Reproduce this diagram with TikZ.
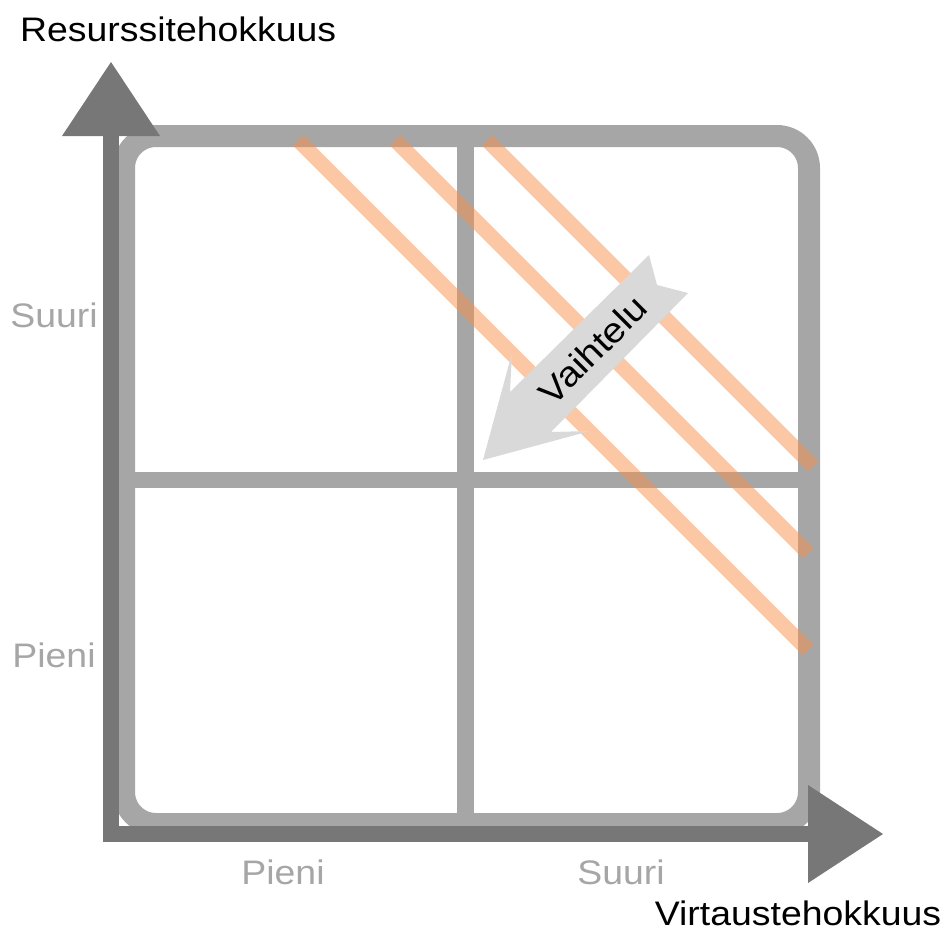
\documentclass[tikz,border=0pt]{standalone}
\usepackage{fontspec}
\setmainfont[FakeStretch=1.1]{Liberation Sans}
\definecolor{axisgray}{HTML}{777777}
\definecolor{framegray}{HTML}{A6A6A6}
\definecolor{labelgray}{HTML}{A6A6A6}
\definecolor{arrowfill}{HTML}{D9D9D9}
\definecolor{stripe}{RGB}{247,143,75}
\begin{document}
\begin{tikzpicture}[x=1pt,y=-1pt,
  lbl/.style={font=\fontsize{34}{40}\selectfont, inner sep=0pt},
  dimlbl/.style={lbl, text=labelgray},
  framestroke/.style={draw=framegray, line width=22pt, rounded corners=32pt},
  divider/.style={draw=framegray, line width=16.5pt},
  stripeline/.style={draw=stripe, draw opacity=0.5, line width=15pt},
  axisline/.style={draw=axisgray, line width=16pt, miter limit=10},
  axishead/.style={fill=axisgray},
  blockarrow/.style={fill=arrowfill}]
\useasboundingbox (0,0) rectangle (948,930);
% frame and dividers
\path[framestroke] (124,136) rectangle (809,824);
\path[divider] (465.5,136) -- (465.5,824);
\path[divider] (124,480) -- (809,480);
% stripes
\path[stripeline] (298,140) -- (808,650);
\path[stripeline] (395,140) -- (808,553);
\path[stripeline] (487,140) -- (813,466);
% axes
\coordinate (ytop) at (111,136);
\coordinate (origin) at (111,834);
\coordinate (xend) at (808,834);
\path[axisline] (ytop) -- (origin) -- (xend);
\path[axishead] (111,62) -- (160,136) -- (62,136) -- cycle;
\path[axishead] (883,834) -- (808,785) -- (808,883) -- cycle;
% block arrow
\path[blockarrow] (483,460) -- (512,353) -- (510,392) -- (649,255) -- (657,285)
  -- (688,293) -- (551,432) -- (590,431) -- cycle;
% labels
\node[lbl, anchor=base west] (ytitle) at (20,41) {Resurssitehokkuus};
\node[dimlbl, anchor=base] (ysuuri) at (54,327) {Suuri};
\node[dimlbl, anchor=base] (ypieni) at (54,667) {Pieni};
\node[dimlbl, anchor=base] (xpieni) at (283,884) {Pieni};
\node[dimlbl, anchor=base] (xsuuri) at (621,884) {Suuri};
\node[lbl, anchor=base] (xtitle) at (798,925) {Virtaustehokkuus};
\node[lbl, font=\fontsize{35}{40}\selectfont, rotate=45] (vaiht) at (593,350) {Vaihtelu};
\end{tikzpicture}
\end{document}
